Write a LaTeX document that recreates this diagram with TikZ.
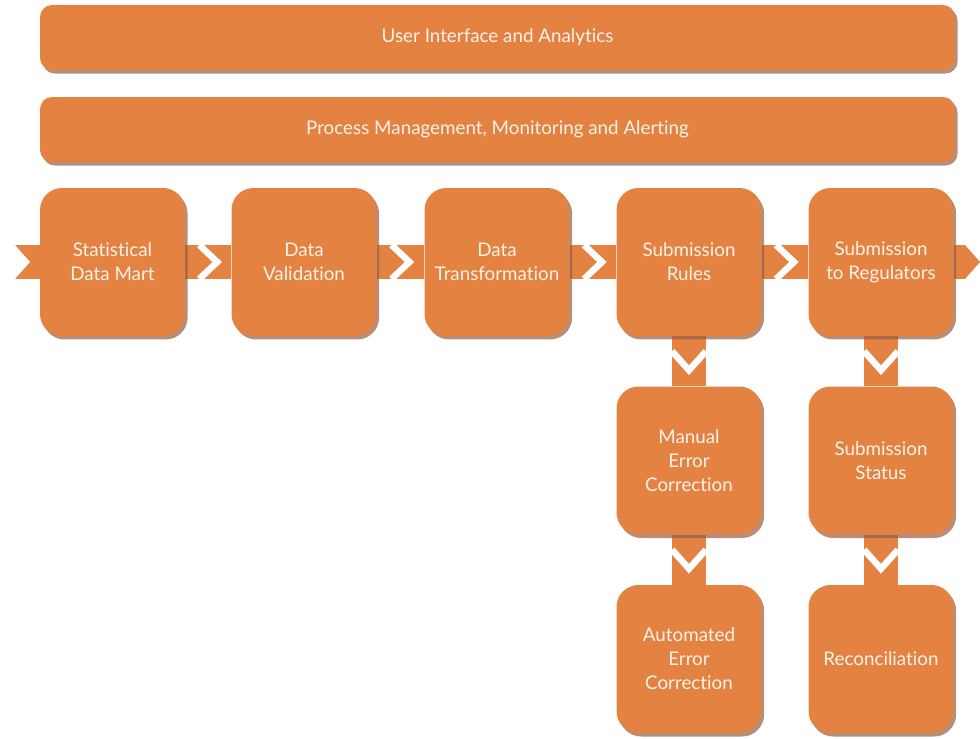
\documentclass[tikz,border=0pt]{standalone}
\usepackage{fontspec}
\setmainfont{Lato}[Ligatures=NoCommon]
\usetikzlibrary{calc,shadows,backgrounds}
\definecolor{orng}{RGB}{227,130,65}
\definecolor{shd}{RGB}{150,95,65}
\definecolor{txt}{RGB}{253,242,234}
\tikzset{
	stage/.style={fill=orng, rounded corners=0.44cm, minimum width=2.9cm, minimum height=2.96cm,
		inner sep=0pt, align=center, text=txt, font=\fontsize{10.7}{13.6}\selectfont,
		drop shadow={shadow xshift=1.5pt, shadow yshift=-2pt, fill=shd, opacity=0.7}},
	bar/.style={stage, minimum width=18.3cm, minimum height=1.3cm, rounded corners=0.24cm},
	link/.style={orng, line width=0.68cm},
	cut/.style={white, line width=0.13cm, miter limit=10},
}
\begin{document}
\begin{tikzpicture}[x=0.02cm, y=-0.02cm]
		\useasboundingbox (0,0) rectangle (980,739);
		% layers on top
		\node[bar] (ui) at (497.5,37.5) {User Interface and Analytics};
		\node[bar] (pm) at (497.5,129.5) {Process Management, Monitoring and Alerting};
		% main chain
		\node[stage] (sdm) at (112.5,262) {Statistical\\Data Mart};
		\node[stage] (val) at (304,262) {Data\\Validation};
		\node[stage] (trf) at (497,262) {Data\\Transformation};
		\node[stage] (rul) at (689,262) {Submission\\Rules};
		\node[stage] (reg) at (881,262) {Submission\\to Regulators};
		% branches
		\node[stage] (man) at (689,460.5) {Manual\\Error\\Correction};
		\node[stage] (sta) at (881,460.5) {Submission\\Status};
		\node[stage] (aut) at (689,659) {Automated\\Error\\Correction};
		\node[stage] (rec) at (881,659) {Reconciliation};
		\coordinate (in) at (15,262);
		\coordinate (out) at (965,262);
		\begin{scope}[on background layer]
		\draw[link] (in) -- (sdm);
		\draw[link] (sdm) -- (val);
		\draw[link] (val) -- (trf);
		\draw[link] (trf) -- (rul);
		\draw[link] (rul) -- (reg);
		\draw[link] (reg) -- (out);
		\draw[link] (rul) -- (man);
		\draw[link] (man) -- (aut);
		\draw[link] (reg) -- (sta);
		\draw[link] (sta) -- (rec);
		\fill[orng] ($(out)+(0,-17)$) -- ($(out)+(15,0)$) -- ($(out)+(0,17)$) -- cycle;
		\fill[white] ($(in)+(-1,-18)$) -- ($(in)+(15,0)$) -- ($(in)+(-1,18)$) -- cycle;
		\end{scope}
		% white chevrons
		\draw[cut] ($(sdm.east)!0.5!(val.west)+(-9,-17)$) -- ++(18,17) -- ++(-18,17);
		\draw[cut] ($(val.east)!0.5!(trf.west)+(-9,-17)$) -- ++(18,17) -- ++(-18,17);
		\draw[cut] ($(trf.east)!0.5!(rul.west)+(-9,-17)$) -- ++(18,17) -- ++(-18,17);
		\draw[cut] ($(rul.east)!0.5!(reg.west)+(-9,-17)$) -- ++(18,17) -- ++(-18,17);
		\draw[cut] ($(rul.south)!0.5!(man.north)+(-17,-10)$) -- ++(17,19) -- ++(17,-19);
		\draw[cut] ($(man.south)!0.5!(aut.north)+(-17,-10)$) -- ++(17,19) -- ++(17,-19);
		\draw[cut] ($(reg.south)!0.5!(sta.north)+(-17,-10)$) -- ++(17,19) -- ++(17,-19);
		\draw[cut] ($(sta.south)!0.5!(rec.north)+(-17,-10)$) -- ++(17,19) -- ++(17,-19);
		\end{tikzpicture}
\end{document}
